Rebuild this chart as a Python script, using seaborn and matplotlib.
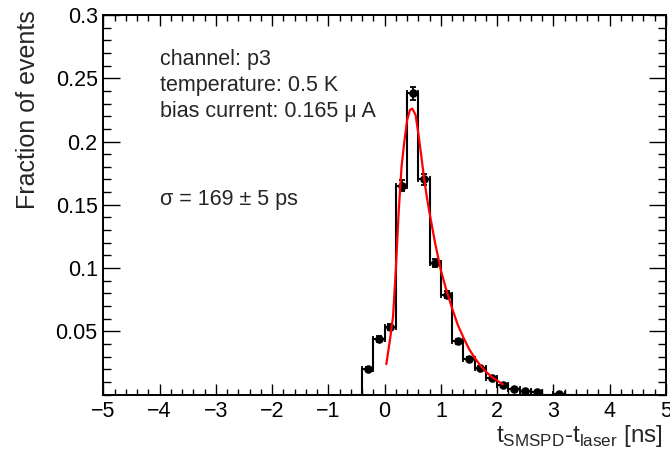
import numpy as np
import pandas as pd
import matplotlib
matplotlib.use("Agg")
import matplotlib.pyplot as plt
from matplotlib.ticker import MultipleLocator
import seaborn as sns

# Histogram of arrival time differences (bin width 0.2 ns)
bin_edges = [-0.6, -0.4, -0.2, 0.0, 0.2, 0.4, 0.6, 0.8, 1.0, 1.2, 1.4, 1.6,
             1.8, 2.0, 2.2, 2.4, 2.6, 2.8, 3.0, 3.2, 3.4]
bin_centers = [-0.5, -0.3, -0.1, 0.1, 0.3, 0.5, 0.7, 0.9, 1.1, 1.3, 1.5, 1.7,
               1.9, 2.1, 2.3, 2.5, 2.7, 2.9, 3.1, 3.3]
fractions = [0.0, 0.020, 0.044, 0.053, 0.165, 0.238, 0.170, 0.104, 0.079, 0.042,
             0.028, 0.021, 0.013, 0.0075, 0.0043, 0.003, 0.0017, 0.0, 0.0004, 0.0]
fraction_errors = [0.0, 0.0015, 0.0022, 0.0024, 0.0042, 0.0050, 0.0042, 0.0033,
                   0.0029, 0.0021, 0.0017, 0.0015, 0.0012, 0.0009, 0.0007,
                   0.0006, 0.0004, 0.0, 0.0002, 0.0]

# Fitted time-response curve
fit_t = [0.03, 0.10, 0.15, 0.20, 0.25, 0.30, 0.35, 0.40, 0.45, 0.49, 0.55,
         0.60, 0.65, 0.70, 0.75, 0.80, 0.90, 1.00, 1.10, 1.20, 1.30, 1.40,
         1.50, 1.60, 1.70, 1.80, 1.90, 2.00, 2.10]
fit_frac = [0.024, 0.045, 0.062, 0.100, 0.145, 0.180, 0.200, 0.217, 0.225,
            0.226, 0.221, 0.206, 0.189, 0.171, 0.156, 0.143, 0.119, 0.098,
            0.082, 0.068, 0.055, 0.045, 0.036, 0.029, 0.023, 0.018, 0.014,
            0.011, 0.008]

x_ticks = [-5, -4, -3, -2, -1, 0, 1, 2, 3, 4, 5]
y_ticks = [0.05, 0.1, 0.15, 0.2, 0.25, 0.3]
y_tick_labels = ["0.05", "0.1", "0.15", "0.2", "0.25", "0.3"]

info_lines = ["channel: p3", "temperature: 0.5 K", "bias current: 0.165 \u03bc A"]
sigma_text = "\u03c3 = 169 \u00b1 5 ps"

sns.set_style("ticks")
plt.rcParams["font.family"] = ["Liberation Sans", "DejaVu Sans"]

fig = plt.figure(figsize=(6.7, 4.5), dpi=100)
ax = fig.add_axes([103.3 / 670, 1 - 394.5 / 450, (666 - 103.3) / 670, (394.5 - 15) / 450])

hist_df = pd.DataFrame({"t": bin_centers, "frac": fractions})
sns.histplot(data=hist_df, x="t", weights="frac", bins=bin_edges, element="step",
             fill=False, color="black", linewidth=1.5, ax=ax)

pts = pd.DataFrame({"t": bin_centers, "frac": fractions, "err": fraction_errors})
pts = pts[pts["frac"] > 0]
ax.errorbar(pts["t"], pts["frac"], yerr=pts["err"], xerr=0.1, fmt="none",
            ecolor="black", elinewidth=1.3, capsize=2.5, capthick=1.3, zorder=3)
sns.scatterplot(data=pts, x="t", y="frac", color="black", s=38, edgecolor="black",
                linewidth=0, zorder=4, ax=ax)

fit_df = pd.DataFrame({"t": fit_t, "frac": fit_frac})
sns.lineplot(data=fit_df, x="t", y="frac", color="red", linewidth=1.6, sort=False,
             zorder=5, ax=ax)

ax.set_xlim(-5, 5)
ax.set_ylim(0, 0.3)
ax.set_xticks(x_ticks)
ax.set_xticklabels([("\u2212%d" % -v) if v < 0 else str(v) for v in x_ticks])
ax.set_yticks(y_ticks)
ax.set_yticklabels(y_tick_labels)
ax.xaxis.set_minor_locator(MultipleLocator(0.2))
ax.yaxis.set_minor_locator(MultipleLocator(0.01))
ax.tick_params(axis="both", which="both", direction="in", top=True, right=True,
               labelsize=15.5, width=1.0, color="black", labelcolor="black")
ax.tick_params(axis="x", which="major", length=8, pad=5)
ax.tick_params(axis="x", which="minor", length=4)
ax.tick_params(axis="y", which="major", length=12, pad=4)
ax.tick_params(axis="y", which="minor", length=6)
for sp in ax.spines.values():
    sp.set_visible(True)
    sp.set_linewidth(1.4)
    sp.set_color("black")
ax.set_xlabel("")
ax.set_ylabel("")

# Axis titles, aligned to the far ends of the axes
fig.text(663 / 670, 1 - 442 / 450, r"t$_{\mathregular{SMSPD}}$-t$_{\mathregular{laser}}$ [ns]",
         ha="right", va="baseline", fontsize=17.5)
fig.text(28 / 670, 1 - 10 / 450, "Fraction of events", rotation=90,
         ha="center", va="top", fontsize=18)

# Run conditions and fitted resolution
baselines = [64.5, 90.5, 116.5]
for txt, yb in zip(info_lines, baselines):
    fig.text(160 / 670, 1 - yb / 450, txt, ha="left", va="baseline", fontsize=15.5)
fig.text(160 / 670, 1 - 205 / 450, sigma_text, ha="left", va="baseline", fontsize=15.5)

fig.savefig("out.png", dpi=100)
